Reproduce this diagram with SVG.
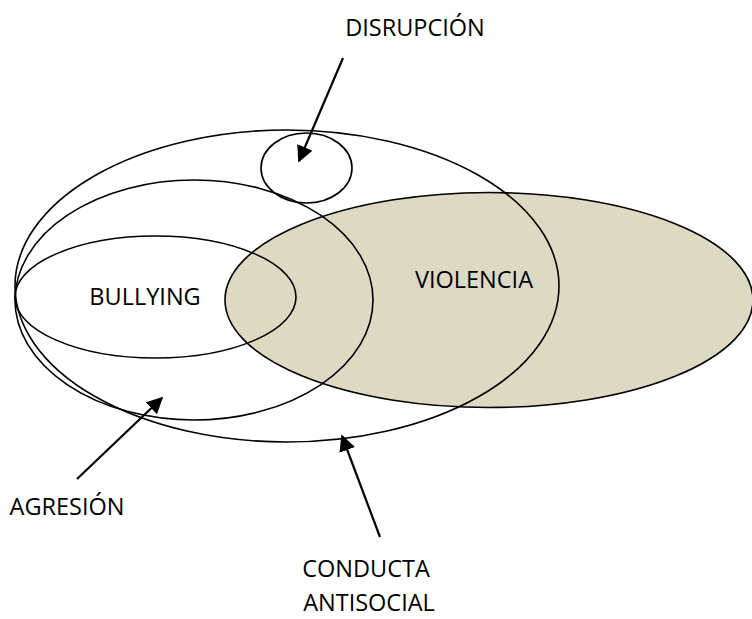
<svg xmlns="http://www.w3.org/2000/svg" width="752" height="619" viewBox="0 0 752 619">
  <style>
    .ring { fill: none; stroke: #000; stroke-width: 1.6; }
    .filled { fill: #DDD9C3; stroke: #000; stroke-width: 1.6; }
    .lbl { font-family: "Open Sans", Lato, "Liberation Sans", sans-serif; font-size: 23.5px; fill: #000; text-anchor: middle; }
    .arrow { stroke: #000; stroke-width: 2.2; fill: none; marker-end: url(#head); }
  </style>
  <defs>
    <marker id="head" viewBox="0 0 10 10" refX="9" refY="5" markerWidth="7.5" markerHeight="7.5" markerUnits="strokeWidth" orient="auto">
      <path d="M0,0 L10,5 L0,10 Z" fill="#000"/>
    </marker>
  </defs>
  <rect width="752" height="619" fill="#fff"/>

  <g id="violencia">
    <ellipse class="filled" cx="489" cy="300" rx="264" ry="107.5"/>
    <text class="lbl" x="474" y="288">VIOLENCIA</text>
  </g>
  <g id="conducta-antisocial">
    <ellipse class="ring" cx="287" cy="286" rx="272" ry="156"/>
    <text class="lbl" x="366" y="577">CONDUCTA</text>
    <text class="lbl" x="369" y="611">ANTISOCIAL</text>
  </g>
  <g id="agresion">
    <ellipse class="ring" cx="194" cy="300" rx="179" ry="120"/>
    <text class="lbl" x="67" y="515">AGRESIÓN</text>
  </g>
  <g id="bullying">
    <ellipse class="ring" cx="155.5" cy="297" rx="140.5" ry="61"/>
    <text class="lbl" x="145" y="305">BULLYING</text>
  </g>
  <g id="disrupcion">
    <ellipse class="ring" cx="306.5" cy="168" rx="45.5" ry="35"/>
    <text class="lbl" x="415" y="36">DISRUPCIÓN</text>
  </g>

  <g id="connectors">
    <line class="arrow" x1="343" y1="58" x2="299" y2="161"/>
    <line class="arrow" x1="77" y1="479" x2="162" y2="398"/>
    <line class="arrow" x1="380" y1="537" x2="342" y2="436"/>
  </g>
</svg>
